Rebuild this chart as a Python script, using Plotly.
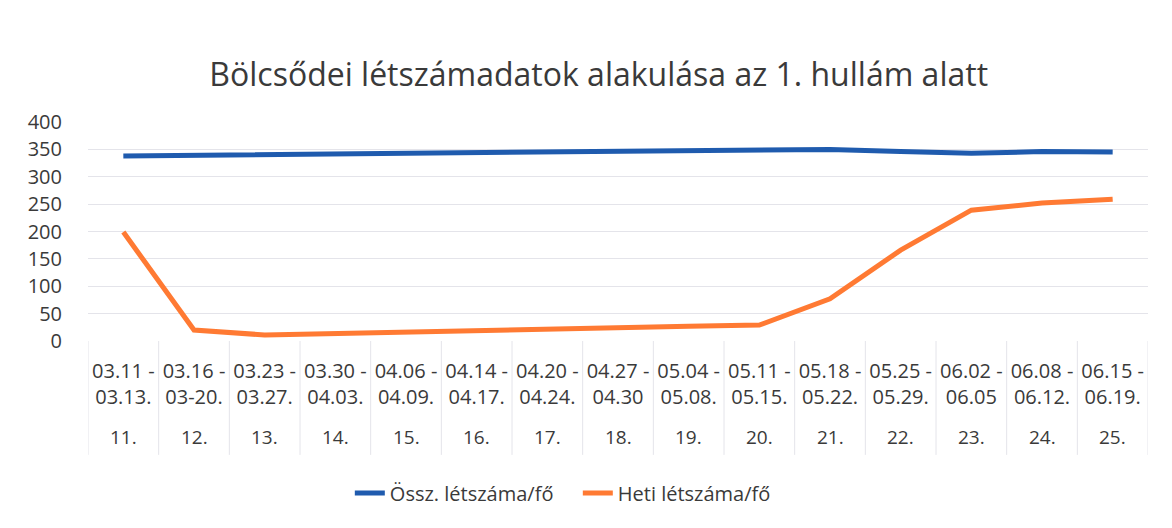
import plotly.graph_objects as go

date_labels = ["03.11 -<br>03.13.", "03.16 -<br>03-20.", "03.23 -<br>03.27.", "03.30 -<br>04.03.",
               "04.06 -<br>04.09.", "04.14 -<br>04.17.", "04.20 -<br>04.24.", "04.27 -<br>04.30",
               "05.04 -<br>05.08.", "05.11 -<br>05.15.", "05.18 -<br>05.22.", "05.25 -<br>05.29.",
               "06.02 -<br>06.05", "06.08 -<br>06.12.", "06.15 -<br>06.19."]
week_labels = ["11.", "12.", "13.", "14.", "15.", "16.", "17.", "18.", "19.", "20.",
               "21.", "22.", "23.", "24.", "25."]
ossz = [338, 339, 340, 341, 342, 343, 344, 345, 347, 348, 350, 346, 343, 346, 345]
heti = [199, 20, 11, 14, 17, 20, 23, 24, 27, 29, 77, 166, 239, 252, 259]

series_names = ["Össz. létszáma/fő", "Heti létszáma/fő"]
y_ticks = [0, 50, 100, 150, 200, 250, 300, 350, 400]

FONT = "Open Sans"
TXT = "#3a3a3a"

fig = go.Figure()
fig.add_trace(go.Scatter(x=date_labels, y=ossz, mode="lines", name=series_names[0],
                         line=dict(color="#1F5BAE", width=5)))
fig.add_trace(go.Scatter(x=date_labels, y=heti, mode="lines", name=series_names[1],
                         line=dict(color="#FF7A33", width=5)))

shapes = []
for i in range(len(date_labels) + 1):
    shapes.append(dict(type="line", xref="x", yref="paper", x0=i - 0.5, x1=i - 0.5,
                       y0=0, y1=-0.52, line=dict(color="#E4E4EA", width=1)))

annotations = []
for i, w in enumerate(week_labels):
    annotations.append(dict(x=date_labels[i], y=-0.438, xref="x", yref="paper",
                            text=w, showarrow=False, xanchor="center", yanchor="middle",
                            font=dict(family=FONT, size=19, color=TXT)))

fig.update_layout(
    width=1172, height=528,
    paper_bgcolor="white", plot_bgcolor="white",
    margin=dict(l=80, r=32, t=114, b=195, autoexpand=False),
    title=dict(text="Bölcsődei létszámadatok alakulása az 1. hullám alatt",
               x=0.504, xanchor="center", y=0.873, yanchor="middle",
               font=dict(family=FONT, size=32, color=TXT)),
    xaxis=dict(type="category", range=[-0.5, len(date_labels) - 0.5],
               showgrid=False, zeroline=False, showline=False, ticks="",
               ticklabelstandoff=16,
               tickfont=dict(family=FONT, size=20, color=TXT)),
    yaxis=dict(range=[0, 400], tickvals=y_ticks, showgrid=True, gridcolor="#E4E4EA",
               gridwidth=1, zeroline=False, showline=False, ticks="",
               ticklabelstandoff=25,
               tickfont=dict(family=FONT, size=20, color=TXT)),
    legend=dict(orientation="h", x=0.247, xanchor="left", y=-0.694, yanchor="middle",
                entrywidth=183, entrywidthmode="pixels",
                font=dict(family=FONT, size=20, color=TXT)),
    shapes=shapes,
    annotations=annotations,
)

fig.write_html("out.html")
